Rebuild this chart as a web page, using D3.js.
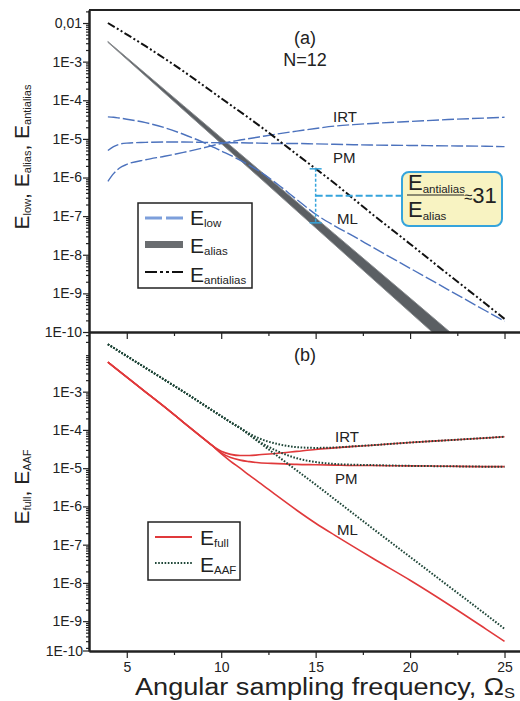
<!DOCTYPE html>
<html>
<head>
<meta charset="utf-8">
<script src="https://cdn.jsdelivr.net/npm/d3@7"></script>
<style>
  body { margin: 0; background: #fff; }
  svg text { font-family: "Liberation Sans", Arial, sans-serif; fill: #222; }
</style>
</head>
<body>
<svg id="chart" width="520" height="701"></svg>
<script>
// ---- data (values are log10 of the error) ----
const omegaA = [4, 4.3, 4.6, 5, 6, 7, 8, 9, 10, 11, 12, 13, 14, 15, 16, 17, 18, 20, 22, 24, 25];
const lowIRT = [-6.1, -5.9, -5.76, -5.66, -5.54, -5.45, -5.35, -5.24, -5.12, -5.03, -4.95, -4.87, -4.8, -4.73, -4.67, -4.63, -4.6, -4.55, -4.5, -4.46, -4.44];
const lowPM = [-5.3, -5.2, -5.14, -5.11, -5.09, -5.08, -5.08, -5.09, -5.1, -5.1, -5.11, -5.12, -5.12, -5.13, -5.14, -5.15, -5.16, -5.17, -5.18, -5.19, -5.2];
const lowML = [-4.43, -4.44, -4.46, -4.49, -4.58, -4.71, -4.88, -5.08, -5.31, -5.55, -5.83, -6.18, -6.57, -6.95, -7.25, -7.52, -7.8, -8.35, -8.9, -9.45, -9.72];

const omegaAnti = [4, 6, 8, 10, 12, 14, 16, 18, 20, 22, 24, 25];
const antialias = [-2.0, -2.6, -3.25, -3.95, -4.65, -5.4, -6.15, -6.95, -7.72, -8.5, -9.27, -9.66];

const omegaAlias = [4, 8, 12, 16, 20, 23];
const aliasUpper = [-2.48, -4.14, -5.8, -7.46, -9.12, -10.37];
const aliasLower = [-2.5, -4.25, -5.99, -7.74, -9.49, -10.8];

const omegaB = [4, 5, 6, 7, 8, 9, 9.5, 10, 10.5, 11, 11.5, 12, 13, 14, 15, 16, 17, 18, 20, 22, 24, 25];
const fullIRT = [-2.23, -2.62, -3.01, -3.4, -3.8, -4.2, -4.4, -4.56, -4.64, -4.67, -4.67, -4.65, -4.61, -4.56, -4.51, -4.47, -4.43, -4.4, -4.33, -4.27, -4.21, -4.18];
const fullPM = [-2.23, -2.62, -3.01, -3.4, -3.8, -4.2, -4.4, -4.6, -4.72, -4.79, -4.83, -4.86, -4.88, -4.9, -4.91, -4.92, -4.93, -4.93, -4.94, -4.95, -4.96, -4.96];
const fullML = [-2.23, -2.62, -3.01, -3.4, -3.8, -4.2, -4.4, -4.62, -4.82, -5.0, -5.19, -5.37, -5.74, -6.1, -6.44, -6.75, -7.05, -7.35, -7.93, -8.55, -9.2, -9.53];
const aafIRT = [-1.76, -2.07, -2.38, -2.69, -3.0, -3.32, -3.48, -3.64, -3.8, -3.95, -4.1, -4.22, -4.37, -4.45, -4.47, -4.46, -4.43, -4.4, -4.33, -4.27, -4.21, -4.18];
const aafPM = [-1.76, -2.07, -2.38, -2.69, -3.0, -3.32, -3.48, -3.64, -3.8, -3.95, -4.13, -4.3, -4.56, -4.74, -4.84, -4.89, -4.91, -4.92, -4.94, -4.95, -4.96, -4.96];
const aafML = [-1.76, -2.07, -2.38, -2.69, -3.0, -3.32, -3.48, -3.64, -3.8, -3.95, -4.13, -4.32, -4.69, -5.06, -5.43, -5.81, -6.19, -6.57, -7.32, -8.07, -8.82, -9.2];

const xTicks = [5, 10, 15, 20, 25];
const xMinor = [7.5, 12.5, 17.5, 22.5];
const yTicksA = [1e-2, 1e-3, 1e-4, 1e-5, 1e-6, 1e-7, 1e-8, 1e-9, 1e-10];
const yTicksB = [1e-3, 1e-4, 1e-5, 1e-6, 1e-7, 1e-8, 1e-9];
const curveNames = ["IRT", "PM", "ML"];
const ratioLabel = "31";
const markOmega = 15;

// ---- layout ----
const svg = d3.select("#chart");
const left = 89, right = 520;
const topA = 10, midY = 332, botB = 651;

const blue = "#4c72bd";
const red = "#e0393b";
const green = "#1f4638";
const gray = "#5b5f63";
const cyan = "#35a4dc";

const x = d3.scaleLinear().domain([3, 25.82]).range([left, right]);
const yA = d3.scaleLog().domain([1e-10, Math.pow(10, -1.663)]).range([midY, topA]);
const yB = d3.scaleLog().domain([Math.pow(10, -9.78), Math.pow(10, -1.44)]).range([botB, midY]);

const zip = (xs, ys) => xs.map((v, i) => [v, ys[i]]);
const lineOf = (y) => d3.line().x((d) => x(d[0])).y((d) => y(Math.pow(10, d[1]))).curve(d3.curveMonotoneX);

// clip paths
const defs = svg.append("defs");
defs.append("clipPath").attr("id", "clipA").append("rect")
  .attr("x", left).attr("y", topA).attr("width", right - left).attr("height", midY - topA);
defs.append("clipPath").attr("id", "clipB").append("rect")
  .attr("x", left).attr("y", midY).attr("width", right - left).attr("height", botB - midY);

// ================= panel (a) =================
const gA = svg.append("g").attr("clip-path", "url(#clipA)");

// alias band
const band = d3.area()
  .x((d) => x(d[0]))
  .y0((d) => yA(Math.pow(10, d[2])))
  .y1((d) => yA(Math.pow(10, d[1])));
gA.append("path")
  .datum(omegaAlias.map((o, i) => [o, aliasUpper[i], aliasLower[i]]))
  .attr("d", band)
  .attr("fill", gray)
  .attr("stroke", "#8a8d90")
  .attr("stroke-width", 1);

// E_low curves
[lowIRT, lowPM, lowML].forEach((vals) => {
  gA.append("path")
    .datum(zip(omegaA, vals))
    .attr("d", lineOf(yA))
    .attr("fill", "none")
    .attr("stroke", blue)
    .attr("stroke-width", 1.4)
    .attr("stroke-dasharray", "12,3");
});

// E_antialias
gA.append("path")
  .datum(zip(omegaAnti, antialias))
  .attr("d", lineOf(yA))
  .attr("fill", "none")
  .attr("stroke", "#111")
  .attr("stroke-width", 2)
  .attr("stroke-dasharray", "8,2.5,2,2.5,2,2.5");

// ratio marker at omega = 15
const antiAt = d3.scaleLinear().domain(omegaAnti).range(antialias)(markOmega);
const aliasAt = (d3.scaleLinear().domain(omegaAlias).range(aliasUpper)(markOmega) +
  d3.scaleLinear().domain(omegaAlias).range(aliasLower)(markOmega)) / 2;
const mx = x(markOmega);
const yTop = yA(Math.pow(10, antiAt));
const yBot = yA(Math.pow(10, aliasAt));
const yMid = (yTop + yBot) / 2;
const boxX = 402, boxY = 172, boxW = 100, boxH = 54;

const ann = svg.append("g");
ann.append("line").attr("x1", mx).attr("x2", mx).attr("y1", yTop).attr("y2", yBot)
  .attr("stroke", cyan).attr("stroke-width", 1.5).attr("stroke-dasharray", "3,2");
[yTop, yBot].forEach((yy) => {
  ann.append("line").attr("x1", mx - 6).attr("x2", mx + 6).attr("y1", yy).attr("y2", yy)
    .attr("stroke", cyan).attr("stroke-width", 1.5);
});
ann.append("line").attr("x1", mx).attr("x2", boxX).attr("y1", yMid).attr("y2", yMid)
  .attr("stroke", cyan).attr("stroke-width", 2).attr("stroke-dasharray", "7,3");
ann.append("rect").attr("x", boxX).attr("y", boxY).attr("width", boxW).attr("height", boxH)
  .attr("rx", 7).attr("fill", "#f8f3c2").attr("stroke", cyan).attr("stroke-width", 2);

const num = ann.append("text").attr("x", boxX + 6).attr("y", boxY + 18).attr("font-size", 22);
num.append("tspan").text("E");
num.append("tspan").attr("font-size", 11.5).attr("dy", 3).text("antialias");
ann.append("line").attr("x1", boxX + 5).attr("x2", boxX + 62).attr("y1", boxY + 23).attr("y2", boxY + 23)
  .attr("stroke", "#222").attr("stroke-width", 1);
const den = ann.append("text").attr("x", boxX + 6).attr("y", boxY + 45).attr("font-size", 22);
den.append("tspan").text("E");
den.append("tspan").attr("font-size", 11.5).attr("dy", 3).text("alias");
const approx = ann.append("text").attr("x", boxX + 62).attr("y", boxY + 31).attr("font-size", 22);
approx.append("tspan").attr("font-size", 15).attr("dy", -1).text("\u2248");
approx.append("tspan").attr("dy", 1).text(ratioLabel);

// curve labels (a)
const labA = [[curveNames[0], 333, 122], [curveNames[1], 333, 163], [curveNames[2], 337, 224]];
labA.forEach(([t, lx, ly]) => svg.append("text").attr("x", lx).attr("y", ly).attr("font-size", 15).text(t));

svg.append("text").attr("x", 305).attr("y", 44).attr("text-anchor", "middle").attr("font-size", 18).text("(a)");
svg.append("text").attr("x", 305).attr("y", 66).attr("text-anchor", "middle").attr("font-size", 18).text("N=12");

// legend (a)
const legA = svg.append("g");
legA.append("rect").attr("x", 138).attr("y", 203).attr("width", 114).attr("height", 85)
  .attr("fill", "#fff").attr("stroke", "#222").attr("stroke-width", 1.5);
legA.append("line").attr("x1", 145).attr("x2", 183).attr("y1", 218).attr("y2", 218)
  .attr("stroke", "#7d9fdb").attr("stroke-width", 3).attr("stroke-dasharray", "17,4");
legA.append("rect").attr("x", 145).attr("y", 241).attr("width", 38).attr("height", 7).attr("fill", "#6a6d70");
legA.append("line").attr("x1", 145).attr("x2", 183).attr("y1", 272).attr("y2", 272)
  .attr("stroke", "#111").attr("stroke-width", 2).attr("stroke-dasharray", "12,3,3,3,3,3");
[["low", 225], ["alias", 253], ["antialias", 282]].forEach(([sub, ly]) => {
  const t = legA.append("text").attr("x", 190).attr("y", ly).attr("font-size", 21);
  t.append("tspan").text("E");
  t.append("tspan").attr("font-size", 11.5).attr("dy", 2).text(sub);
});

// ================= panel (b) =================
const gB = svg.append("g").attr("clip-path", "url(#clipB)");
[fullIRT, fullPM, fullML].forEach((vals) => {
  gB.append("path")
    .datum(zip(omegaB, vals))
    .attr("d", lineOf(yB))
    .attr("fill", "none")
    .attr("stroke", red)
    .attr("stroke-width", 1.6);
});
[aafIRT, aafPM, aafML].forEach((vals) => {
  gB.append("path")
    .datum(zip(omegaB, vals))
    .attr("d", lineOf(yB))
    .attr("fill", "none")
    .attr("stroke", green)
    .attr("stroke-width", 2)
    .attr("stroke-dasharray", "1.6,1.6");
});

const labB = [[curveNames[0], 335, 442], [curveNames[1], 335, 484], [curveNames[2], 337, 535]];
labB.forEach(([t, lx, ly]) => svg.append("text").attr("x", lx).attr("y", ly).attr("font-size", 15).text(t));
svg.append("text").attr("x", 305).attr("y", 361).attr("text-anchor", "middle").attr("font-size", 18).text("(b)");

// legend (b)
const legB = svg.append("g");
legB.append("rect").attr("x", 148).attr("y", 522).attr("width", 92).attr("height", 58)
  .attr("fill", "#fff").attr("stroke", "#222").attr("stroke-width", 1.5);
legB.append("line").attr("x1", 155).attr("x2", 192).attr("y1", 537).attr("y2", 537)
  .attr("stroke", red).attr("stroke-width", 2);
legB.append("line").attr("x1", 155).attr("x2", 192).attr("y1", 563).attr("y2", 563)
  .attr("stroke", green).attr("stroke-width", 2).attr("stroke-dasharray", "1.6,1.6");
[["full", 545], ["AAF", 572]].forEach(([sub, ly]) => {
  const t = legB.append("text").attr("x", 200).attr("y", ly).attr("font-size", 21);
  t.append("tspan").text("E");
  t.append("tspan").attr("font-size", 11.5).attr("dy", 2).text(sub);
});

// ================= axes =================
const fmtY = (d) => (d === 1e-2 ? "0,01" : "1E" + Math.round(Math.log10(d)));
function minorLog(scale) {
  const [lo, hi] = scale.domain();
  const out = [];
  for (let e = Math.floor(Math.log10(lo)); e <= Math.ceil(Math.log10(hi)); e++) {
    for (let m = 2; m <= 9; m++) {
      const v = m * Math.pow(10, e);
      if (v >= lo && v <= hi) out.push(v);
    }
  }
  return out;
}
function styleAxis(g) {
  g.selectAll("path.domain").attr("stroke", "#222").attr("stroke-width", 2);
  g.selectAll(".tick line").attr("stroke", "#222").attr("stroke-width", 1.2);
  g.selectAll(".tick text").attr("font-family", "Liberation Sans, Arial, sans-serif").attr("font-size", 14).attr("fill", "#222");
}

// left axes
[[yA, yTicksA], [yB, yTicksB]].forEach(([ys, ticks]) => {
  svg.append("g").attr("transform", `translate(${left},0)`)
    .call(d3.axisLeft(ys).tickValues(minorLog(ys)).tickSize(3).tickFormat("").tickSizeOuter(0))
    .call(styleAxis);
  svg.append("g").attr("transform", `translate(${left},0)`)
    .call(d3.axisLeft(ys).tickValues(ticks).tickSize(6).tickPadding(1).tickFormat(fmtY).tickSizeOuter(0))
    .call(styleAxis);
});
// bottom end label of panel (b)
svg.append("text").attr("x", left - 6).attr("y", yB.range()[0]).attr("dy", "0.35em")
  .attr("text-anchor", "end").attr("font-size", 14).text("1E-10");
svg.append("line").attr("x1", left - 6).attr("x2", left).attr("y1", botB).attr("y2", botB)
  .attr("stroke", "#222").attr("stroke-width", 1.2);

// horizontal axes
[[midY, false], [botB, true]].forEach(([yy, labels]) => {
  svg.append("g").attr("transform", `translate(0,${yy})`)
    .call(d3.axisBottom(x).tickValues(xMinor).tickSize(4).tickFormat("").tickSizeOuter(0))
    .call(styleAxis);
  svg.append("g").attr("transform", `translate(0,${yy})`)
    .call(d3.axisBottom(x).tickValues(xTicks).tickSize(7).tickPadding(4)
      .tickFormat(labels ? d3.format("d") : "").tickSizeOuter(0))
    .call(styleAxis);
});
// top frame line
svg.append("line").attr("x1", left).attr("x2", right).attr("y1", topA).attr("y2", topA)
  .attr("stroke", "#222").attr("stroke-width", 2);

// axis titles
const xt = svg.append("text").attr("x", 135).attr("y", 695).attr("font-size", 23)
  .attr("textLength", 380).attr("lengthAdjust", "spacingAndGlyphs");
xt.append("tspan").text("Angular sampling frequency, \u03A9");
xt.append("tspan").attr("font-size", 14).attr("dy", 3).text("S");

function yTitle(cy, parts) {
  const t = svg.append("text")
    .attr("transform", `translate(29,${cy}) rotate(-90)`)
    .attr("text-anchor", "middle").attr("font-size", 21);
  parts.forEach(([sub, sep]) => {
    t.append("tspan").text("E");
    t.append("tspan").attr("font-size", 11).attr("dy", 2).text(sub);
    if (sep) t.append("tspan").attr("dy", -2).text(", ");
    else t.append("tspan").attr("dy", -2).text("");
  });
}
yTitle(157, [["low", true], ["alias", true], ["antialias", false]]);
yTitle(487, [["full", true], ["AAF", false]]);
</script>
</body>
</html>
